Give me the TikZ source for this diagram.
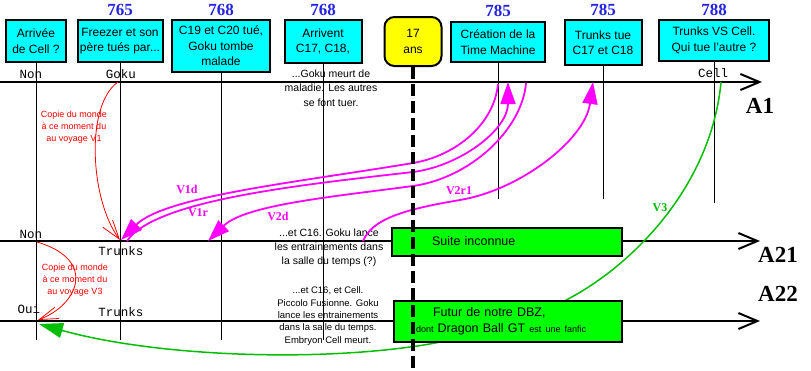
\documentclass[tikz,border=0pt]{standalone}
\usepackage{fontspec}
\setmainfont{Liberation Sans}
\setmonofont{Liberation Mono}
\newfontfamily\titlefont{Liberation Serif}
\usepackage{tikz}
\usetikzlibrary{positioning, arrows.meta}
\definecolor{BoxCyan}{RGB}{0,255,255}
\definecolor{BoxYellow}{RGB}{255,255,0}
\definecolor{BoxGreen}{RGB}{0,255,0}
\definecolor{YearBlue}{RGB}{35,35,225}
\definecolor{TravelPink}{RGB}{255,0,255}
\definecolor{TravelGreen}{RGB}{0,190,0}
\definecolor{CopyRed}{RGB}{255,0,0}
\tikzset{EventBox/.style={%
    shape=rectangle,%
    draw=black,%
    fill=BoxCyan,%
    line width=2pt,%
    inner sep=0pt,%
    align=center,%
    font=\fontsize{12}{15.5}\selectfont,%
}}
\tikzset{AgeBox/.style={%
    EventBox,%
    fill=BoxYellow,%
    rounded corners=10pt,%
}}
\tikzset{FutureBox/.style={%
    EventBox,%
    fill=BoxGreen,%
    align=left,%
    font=\fontsize{12.5}{16}\selectfont,%
}}
\tikzset{YearLabel/.style={%
    font=\titlefont\bfseries\fontsize{17}{17}\selectfont,%
    text=YearBlue,%
    inner sep=0pt,%
}}
\tikzset{AxisName/.style={%
    font=\titlefont\bfseries\fontsize{23}{23}\selectfont,%
    inner sep=0pt,%
}}
\tikzset{AxisLine/.style={%
    -{Straight Barb[length=19pt,width=16pt]},%
    line width=2pt,%
}}
\tikzset{DateLine/.style={%
    line width=0.9pt,%
}}
\tikzset{AgeLine/.style={%
    line width=4pt,%
    dash pattern=on 12pt off 5pt,%
}}
\tikzset{MonoLabel/.style={%
    font=\ttfamily\fontsize{12.5}{12.5}\selectfont,%
    inner sep=0pt,%
    anchor=base,%
}}
\tikzset{Story/.style={%
    font=\fontsize{10.5}{14.5}\selectfont,%
    align=center,%
    inner sep=0pt,%
}}
\tikzset{CopyNote/.style={%
    font=\fontsize{9}{12.3}\selectfont,%
    align=center,%
    text=CopyRed,%
    inner sep=0pt,%
}}
\tikzset{CopyArrow/.style={%
    -{Straight Barb[length=19pt,width=12pt]},%
    draw=CopyRed,%
    line width=0.8pt,%
}}
\tikzset{TravelPath/.style={%
    -{Triangle[length=22pt,width=15pt]},%
    draw=TravelPink,%
    fill=none,%
    line width=1.8pt,%
}}
\tikzset{FuturePath/.style={%
    -{Triangle[length=24pt,width=15pt]},%
    draw=TravelGreen,%
    line width=1.5pt,%
}}
\NewDocumentCommand{\travelLabel}{s m}{%
    \IfBooleanTF{#1}{%
        {\titlefont\bfseries\fontsize{12}{12}\selectfont\color{TravelGreen}#2}%
    }{%
        {\titlefont\bfseries\fontsize{12}{12}\selectfont\color{TravelPink}#2}%
    }%
}
\begin{document}
\begin{tikzpicture}[x=1pt, y=-1pt]
    \useasboundingbox (0,0) rectangle (811,370);

    % the three time lines
    \coordinate (a1s) at (0,82);
    \coordinate (a1e) at (762,82);
    \coordinate (a21s) at (0,241);
    \coordinate (a21e) at (760,241);
    \coordinate (a22s) at (0,321);
    \coordinate (a22e) at (760,321);
    \draw[AxisLine] (a1s) -- (a1e);
    \draw[AxisLine] (a21s) -- (a21e);
    \draw[AxisLine] (a22s) -- (a22e);
    \node[AxisName] (nA1) at (760,106) {A1};
    \node[AxisName] (nA21) at (778,255) {A21};
    \node[AxisName] (nA22) at (778,294) {A22};

    % events on top
    \node[EventBox, minimum width=60pt, minimum height=42pt] (b1) at (36,41) {Arrivée\\de Cell ?};
    \node[EventBox, minimum width=85pt, minimum height=42pt] (b2) at (120,41) {Freezer et son\\père tués par...};
    \node[EventBox, minimum width=98pt, minimum height=52pt] (b3) at (221,46) {C19 et C20 tué,\\Goku tombe\\malade};
    \node[EventBox, minimum width=77pt, minimum height=43pt] (b4) at (323,41.5) {Arrivent\\C17, C18,};
    \node[AgeBox, minimum width=57pt, minimum height=49pt] (age) at (413,41.5) {17\\ans};
    \node[EventBox, minimum width=94pt, minimum height=40pt] (b6) at (498,42) {Création de la\\Time Machine};
    \node[EventBox, minimum width=77pt, minimum height=45pt] (b7) at (603,42.5) {Trunks tue\\C17 et C18};
    \node[EventBox, minimum width=110pt, minimum height=41pt] (b8) at (714,40.5) {Trunks VS Cell.\\Qui tue l'autre ?};

    \node[YearLabel, above=3pt of b2] (y2) {765};
    \node[YearLabel, above=3pt of b3] (y3) {768};
    \node[YearLabel, above=3pt of b4] (y4) {768};
    \node[YearLabel, above=4pt of b6] (y6) {785};
    \node[YearLabel, above=3pt of b7] (y7) {785};
    \node[YearLabel, above=3pt of b8] (y8) {788};

    \coordinate (d1) at (36,340);
    \coordinate (d2) at (120,340);
    \coordinate (d3) at (221,340);
    \coordinate (d4) at (323,340);
    \coordinate (d6) at (498,199);
    \coordinate (d7) at (603,199);
    \coordinate (d8) at (714,203);
    \draw[DateLine] (b1) -- (d1);
    \draw[DateLine] (b2) -- (d2);
    \draw[DateLine] (b3) -- (d3);
    \draw[DateLine] (b4) -- (d4);
    \draw[DateLine] (b6) -- (d6);
    \draw[DateLine] (b7) -- (d7);
    \draw[DateLine] (b8) -- (d8);

    % who is there
    \node[MonoLabel] (nonA1) at (31,78) {Non};
    \node[MonoLabel] (gokuA1) at (121,78) {Goku};
    \node[MonoLabel] (cellA1) at (713,77) {Cell};
    \node[MonoLabel] (nonA21) at (31,238) {Non};
    \node[MonoLabel] (trunksA21) at (121,255) {Trunks};
    \node[MonoLabel] (ouiA22) at (29,313) {Oui};
    \node[MonoLabel] (trunksA22) at (121,316) {Trunks};

    \node[Story] (s1) at (331,88) {...Goku meurt de\\maladie. Les autres\\se font tuer.};
    \node[Story, font=\fontsize{10.5}{14}\selectfont] (s2) at (329,248) {...et C16. Goku lance\\les entrainements dans\\la salle du temps (?)};
    \node[Story, font=\fontsize{9.5}{12.3}\selectfont] (s3) at (328,316) {...et C16, et Cell.\\Piccolo Fusionne. Goku\\lance les entrainements\\dans la salle du temps.\\Embryon Cell meurt.};

    % copies of the world
    \coordinate (c1s) at (118,82);
    \coordinate (c1e) at (120,240);
    \coordinate (c3s) at (37,242);
    \coordinate (c3e) at (38,320);
    \draw[CopyArrow] (c1s) .. controls (85,105) and (90,200) .. (c1e);
    \draw[CopyArrow] (c3s) .. controls (98,260) and (78,305) .. (c3e);
    \node[CopyNote] (n1) at (74,127) {Copie du monde\\à ce moment du\\au voyage V1};
    \node[CopyNote] (n3) at (75,280) {Copie du monde\\à ce moment du\\au voyage V3};

    % the trips
    \coordinate (v1ds) at (498,84);
    \coordinate (v1de) at (121,240);
    \coordinate (v1rs) at (127,241);
    \coordinate (v1re) at (508,82);
    \coordinate (v2ds) at (526,83);
    \coordinate (v2de) at (208,241);
    \coordinate (v2rs) at (363,241);
    \coordinate (v2re) at (593,82);
    \coordinate (v3s) at (721,82);
    \coordinate (v3e) at (39,324);
    \draw[TravelPath] (v1ds) .. controls (494,125) and (455,156) .. (413,163) .. controls (300,182) and (165,196) .. (v1de);
    \draw[TravelPath] (v1rs) .. controls (155,200) and (300,185) .. (413,172) .. controls (460,166) and (508,130) .. (v1re);
    \draw[TravelPath] (v2ds) .. controls (522,130) and (470,178) .. (413,186) .. controls (330,197) and (245,205) .. (v2de);
    \draw[TravelPath] (v2rs) .. controls (372,220) and (400,210) .. (460,200) .. controls (520,190) and (585,140) .. (v2re);
    \draw[FuturePath] (v3s) .. controls (712,180) and (640,260) .. (570,298) .. controls (520,325) and (450,342) .. (410,347) .. controls (300,362) and (150,355) .. (v3e);
    \node[inner sep=0pt] (l1d) at (187,189) {\travelLabel{V1d}};
    \node[inner sep=0pt] (l1r) at (198,213) {\travelLabel{V1r}};
    \node[inner sep=0pt] (l2d) at (278,216) {\travelLabel{V2d}};
    \node[inner sep=0pt] (l2r) at (459,191) {\travelLabel{V2r1}};
    \node[inner sep=0pt] (l3) at (660,208) {\travelLabel*{V3}};

    % what comes next
    \node[FutureBox, minimum width=230pt, minimum height=28pt, inner xsep=40pt, text width=150pt] (f1) at (507,241.5) {Suite inconnue};
    \node[FutureBox, minimum width=228pt, minimum height=41pt, inner xsep=22pt, text width=184pt] (f2) at (508,321.5) {\hspace*{17pt}Futur de notre DBZ,\\{\fontsize{9}{9}\selectfont dont} Dragon Ball GT {\fontsize{9}{9}\selectfont est une fanfic}};

    \coordinate (ageEnd) at (413,370);
    \draw[AgeLine] (age) -- (ageEnd);
\end{tikzpicture}
\end{document}
